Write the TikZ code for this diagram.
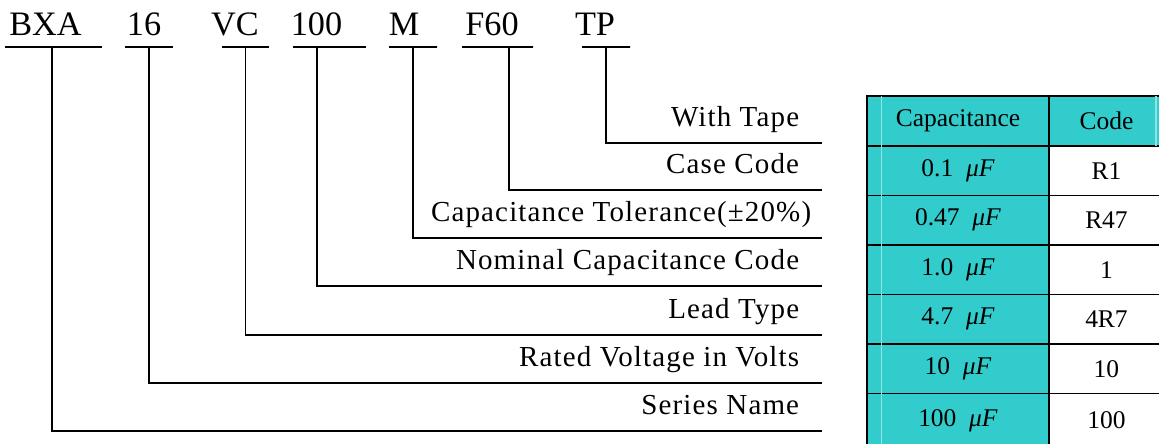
\documentclass[tikz,border=0pt]{standalone}
\usepackage{fontspec}
\setmainfont{Liberation Serif}
\newfontfamily\lblfont[LetterSpace=4.0]{Liberation Serif}
\usepackage{tikz}
\usetikzlibrary{positioning}
\usepackage{xcolor}
\definecolor{capcyan}{HTML}{33CCCC}

\begin{document}
\begin{tikzpicture}[x=0.02cm, y=-0.02cm, line width=1pt,
    code/.style={anchor=base, inner sep=0pt, font=\fontsize{19.5}{22}\selectfont},
    uline/.style={draw, inner sep=0pt, outer sep=0pt, minimum height=0pt},
    lbl/.style={anchor=south east, inner xsep=0.44cm, inner ysep=0.32cm, text depth=0pt, font=\lblfont\fontsize{16.5}{18}\selectfont},
    cell/.style={draw, outer sep=0pt, minimum height=0.99cm, font=\fontsize{14.5}{16}\selectfont}]
  \clip (0,0) rectangle (1159,443);
  % part number
  \node[code] (bxa) at (45.5,35) {BXA};
  \node[code] (n16) at (144,35) {16};
  \node[code] (vc) at (235,35) {VC};
  \node[code] (c100) at (316.5,35) {100};
  \node[code] (m) at (404,35) {M};
  \node[code] (f60) at (492,35) {F60};
  \node[code] (tp) at (595,35) {TP};
  \node[uline, minimum width=1.94cm] (ubxa) at (53.5,47) {};
  \node[uline, minimum width=0.96cm] (un16) at (149,47) {};
  \node[uline, minimum width=0.94cm] (uvc) at (245.5,47) {};
  \node[uline, minimum width=1.46cm] (uc100) at (329.5,47) {};
  \node[uline, minimum width=0.96cm] (um) at (413,47) {};
  \node[uline, minimum width=1.42cm] (uf60) at (497.5,47) {};
  \node[uline, minimum width=0.96cm] (utp) at (606,47) {};
  % meanings
  \node[lbl] (tape) at (822,143) {With Tape};
  \node[lbl] (case) at (822,190) {Case Code};
  \node[lbl, inner xsep=0.2cm] (tol) at (822,238) {Capacitance Tolerance(±20\%)};
  \node[lbl] (nom) at (822,286) {Nominal Capacitance Code};
  \node[lbl] (lead) at (822,335) {Lead Type};
  \node[lbl] (volt) at (822,383) {Rated Voltage in Volts};
  \node[lbl] (series) at (822,431) {Series Name};
  \draw ([xshift=-0.03cm]ubxa.center) |- (series.south east);
  \draw (un16.center) |- (volt.south east);
  \draw (uvc.center) |- (lead.south east);
  \draw ([xshift=-0.25cm]uc100.center) |- (nom.south east);
  \draw (um.center) |- (tol.south east);
  \draw ([xshift=0.23cm]uf60.center) |- (case.south east);
  \draw (utp.center) |- (tape.south east);
  % code table
  \node[cell, fill=capcyan, minimum width=3.64cm, minimum height=1cm] (cap0) at (958,121) {Capacitance};
  \node[cell, fill=capcyan, minimum width=2.3cm, minimum height=1cm, right=0pt of cap0] (code0) {Code};
  \node[cell, fill=capcyan, minimum width=3.64cm, below=0pt of cap0] (cap1) {0.1\hspace{0.5em}\textit{μF}};
  \node[cell, minimum width=2.3cm, right=0pt of cap1] (code1) {R1};
  \node[cell, fill=capcyan, minimum width=3.64cm, below=0pt of cap1] (cap2) {0.47\hspace{0.5em}\textit{μF}};
  \node[cell, minimum width=2.3cm, right=0pt of cap2] (code2) {R47};
  \node[cell, fill=capcyan, minimum width=3.64cm, below=0pt of cap2] (cap3) {1.0\hspace{0.5em}\textit{μF}};
  \node[cell, minimum width=2.3cm, right=0pt of cap3] (code3) {1};
  \node[cell, fill=capcyan, minimum width=3.64cm, below=0pt of cap3] (cap4) {4.7\hspace{0.5em}\textit{μF}};
  \node[cell, minimum width=2.3cm, right=0pt of cap4] (code4) {4R7};
  \node[cell, fill=capcyan, minimum width=3.64cm, below=0pt of cap4] (cap5) {10\hspace{0.5em}\textit{μF}};
  \node[cell, minimum width=2.3cm, right=0pt of cap5] (code5) {10};
  \node[cell, fill=capcyan, minimum width=3.64cm, minimum height=1.1cm, below=0pt of cap5] (cap6) {\raisebox{0.05cm}{100\hspace{0.5em}\textit{μF}}};
  \node[cell, minimum width=2.3cm, minimum height=1.1cm, right=0pt of cap6] (code6) {\raisebox{0.05cm}{100}};
  \draw[line width=0.6pt, white!45!capcyan] ([xshift=0.28cm]cap0.north west) -- ([xshift=0.28cm]cap6.south west);
  \draw[line width=0.6pt, white!45!capcyan] ([xshift=2.14cm]code0.north west) -- ([xshift=2.14cm]code0.south west);
\end{tikzpicture}
\end{document}
